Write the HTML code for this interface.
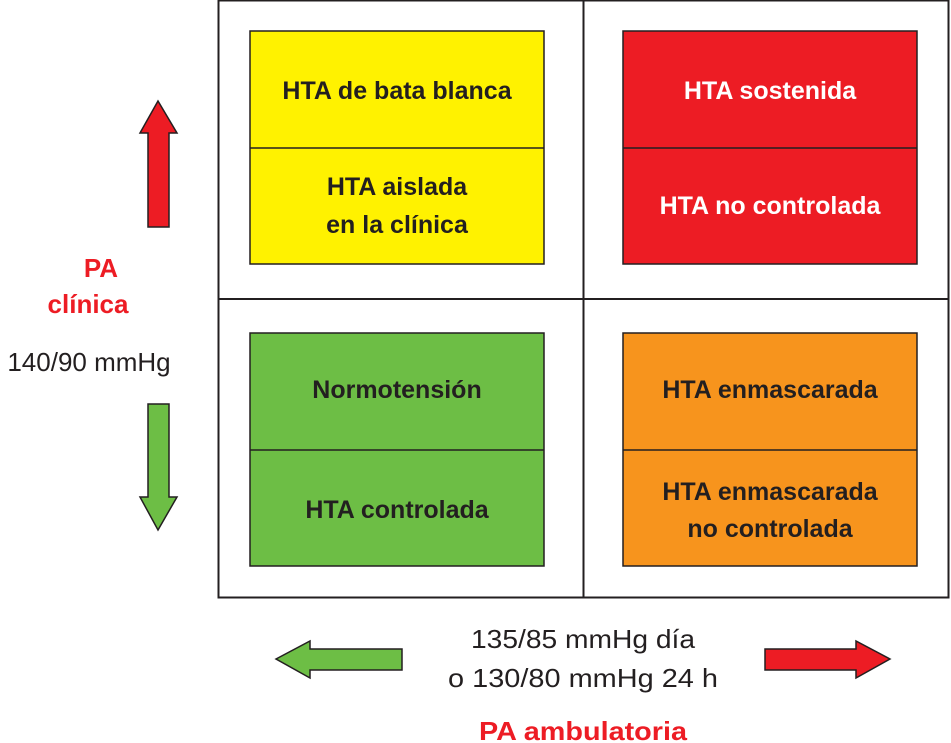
<!DOCTYPE html>
<html><head><meta charset="utf-8"><style>
html,body{margin:0;padding:0;background:#fff;width:951px;height:743px;overflow:hidden}
svg{display:block}
.b{font-family:"Liberation Sans",sans-serif;font-weight:bold;font-size:25px;fill:#231f20}
.w{fill:#fff}
.r{font-family:"Liberation Sans",sans-serif;font-size:26px;fill:#231f20}
.red{font-family:"Liberation Sans",sans-serif;font-weight:bold;font-size:26px;fill:#ed1c24}
</style></head><body>
<svg width="951" height="743" viewBox="0 0 951 743">
<g fill="none" stroke="#231f20" stroke-width="2">
<rect x="218.5" y="0.5" width="730" height="597"/>
<line x1="583.5" y1="0" x2="583.5" y2="597"/>
<line x1="218" y1="299" x2="949" y2="299"/>
</g>
<g stroke="#231f20" stroke-width="1.5">
<rect x="250" y="31" width="294" height="233" fill="#fff200"/>
<line x1="250" y1="148" x2="544" y2="148"/>
<rect x="623" y="31" width="294" height="233" fill="#ed1c24"/>
<line x1="623" y1="148" x2="917" y2="148"/>
<rect x="250" y="333" width="294" height="233" fill="#6dbe45"/>
<line x1="250" y1="450" x2="544" y2="450"/>
<rect x="623" y="333" width="294" height="233" fill="#f7941d"/>
<line x1="623" y1="450" x2="917" y2="450"/>
<polygon points="158,101 177,133 169,133 169,227 148,227 148,133 140,133" fill="#ed1c24"/>
<polygon points="158,530 177,497 169,497 169,404 148,404 148,497 140,497" fill="#6dbe45"/>
<polygon points="276,659 310,641 310,649 402,649 402,670 310,670 310,678" fill="#6dbe45"/>
<polygon points="890,659 856,641 856,649 765,649 765,670 856,670 856,678" fill="#ed1c24"/>
</g>
<g text-anchor="middle">
<text class="b" x="397" y="99">HTA de bata blanca</text>
<text class="b" x="397" y="195">HTA aislada</text>
<text class="b" x="397" y="233">en la clínica</text>
<text class="b w" x="770" y="99">HTA sostenida</text>
<text class="b w" x="770" y="214">HTA no controlada</text>
<text class="b" x="397" y="398">Normotensión</text>
<text class="b" x="397" y="518">HTA controlada</text>
<text class="b" x="770" y="398">HTA enmascarada</text>
<text class="b" x="770" y="500">HTA enmascarada</text>
<text class="b" x="770" y="537">no controlada</text>
<text class="red" x="101" y="277">PA</text>
<text class="red" x="88" y="313">clínica</text>
<text class="r" x="89" y="371">140/90 mmHg</text>
<text class="r" x="583" y="648" textLength="224" lengthAdjust="spacingAndGlyphs">135/85 mmHg día</text>
<text class="r" x="583" y="687" textLength="270" lengthAdjust="spacingAndGlyphs">o 130/80 mmHg 24 h</text>
<text class="red" x="583" y="740" textLength="208" lengthAdjust="spacingAndGlyphs">PA ambulatoria</text>
</g>
</svg>
</body></html>
